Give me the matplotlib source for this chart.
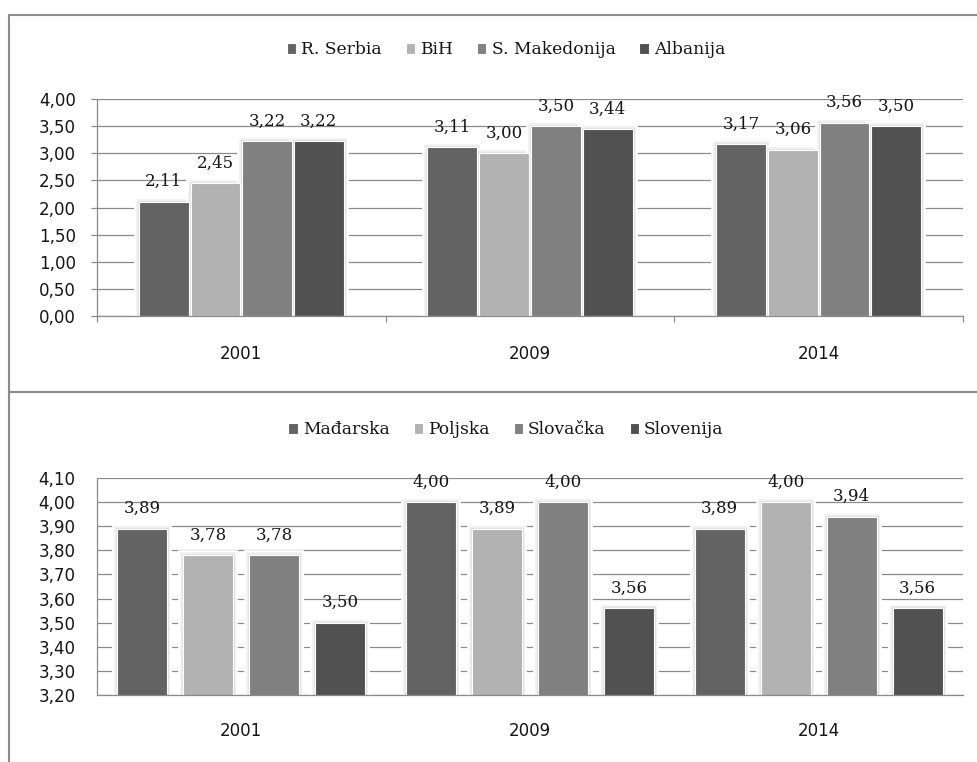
import matplotlib
matplotlib.use("Agg")
import matplotlib.pyplot as plt
import matplotlib.patheffects as pe
from matplotlib.lines import Line2D
from matplotlib.ticker import FixedLocator, FuncFormatter
import numpy as np

# ---- data -------------------------------------------------------------
years = ["2001", "2009", "2014"]

balkan_names = ["R. Serbia", "BiH", "S. Makedonija", "Albanija"]
r_serbia = [2.11, 3.11, 3.17]
bih = [2.45, 3.00, 3.06]
s_makedonija = [3.22, 3.50, 3.56]
albanija = [3.22, 3.44, 3.50]

central_names = ["Mađarska", "Poljska", "Slovačka", "Slovenija"]
madjarska = [3.89, 4.00, 3.89]
poljska = [3.78, 3.89, 4.00]
slovacka = [3.78, 4.00, 3.94]
slovenija = [3.50, 3.56, 3.56]

top_ticks = [0.0, 0.5, 1.0, 1.5, 2.0, 2.5, 3.0, 3.5, 4.0]
bottom_ticks = [3.2, 3.3, 3.4, 3.5, 3.6, 3.7, 3.8, 3.9, 4.0, 4.1]

shades = ["#636363", "#b2b2b2", "#808080", "#515151"]
GRID = "#8a8a8a"
FRAME = "#8c8c8c"
INK = "#151515"
SERIF = "DejaVu Serif"
SANS = "DejaVu Sans"

W, H = 978, 762
fig = plt.figure(figsize=(W / 100, H / 100), dpi=100)
fig.patch.set_facecolor("white")


def px_axes(left, top, right, bottom):
    return fig.add_axes([left / W, 1 - bottom / H, (right - left) / W, (bottom - top) / H])


def comma(v, _pos=None):
    return f"{v:.2f}".replace(".", ",")


def draw_panel(ax, names, series, ylim, yticks, step, width, legend_y,
               ytick_len, ytick_pad, xtick_pad, sep_ticks):
    x = np.arange(len(years))
    ax.set_xlim(-0.5, len(years) - 0.5)
    ax.set_ylim(*ylim)
    handles = []
    for i, (vals, col) in enumerate(zip(series, shades)):
        pos = x + (i - 1.5) * step
        # soft halo behind each bar
        ax.bar(pos, vals, width=width, color="white", edgecolor="white",
               linewidth=0, zorder=1.6,
               path_effects=[pe.Stroke(linewidth=7.0, foreground="white"),
                             pe.Stroke(linewidth=4.4, foreground="#f3f3f3"),
                             pe.Stroke(linewidth=2.4, foreground="#e2e2e2")])
        bars = ax.bar(pos, vals, width=width, color=col, edgecolor="white",
                      linewidth=0.8, zorder=2, label=names[i])
        handles.append(bars)
        for xp, v in zip(pos, vals):
            ax.annotate(comma(v), (xp, v), xytext=(0, 11.3),
                        textcoords="offset points", ha="center", va="baseline",
                        fontsize=12, family=SERIF, color=INK, zorder=3)

    ax.yaxis.set_major_locator(FixedLocator(yticks))
    ax.yaxis.set_major_formatter(FuncFormatter(comma))
    ax.grid(axis="y", color=GRID, linewidth=0.9, zorder=0.5)
    ax.set_axisbelow(True)
    ax.tick_params(axis="y", length=ytick_len, width=0.9, color=GRID,
                   pad=ytick_pad, labelsize=12, labelcolor=INK)
    for lab in ax.get_yticklabels():
        lab.set_family(SANS)

    ax.set_xticks(x)
    ax.set_xticklabels(years, family=SANS, fontsize=12, color=INK)
    ax.tick_params(axis="x", which="major", length=0, pad=xtick_pad)
    if sep_ticks:
        ax.set_xticks(np.arange(-0.5, len(years)), minor=True)
        ax.tick_params(axis="x", which="minor", length=ytick_len, width=0.9,
                       color=GRID, direction="out")

    for side in ("top", "right"):
        ax.spines[side].set_visible(False)
    for side in ("left", "bottom"):
        ax.spines[side].set_color(GRID)
        ax.spines[side].set_linewidth(0.9)

    fig.legend(handles=handles, labels=names, loc="center",
               bbox_to_anchor=(506 / W, 1 - legend_y / H), ncol=4,
               frameon=False, prop={"family": SERIF, "size": 12.3},
               handlelength=0.55, handleheight=0.55, handletextpad=0.3,
               columnspacing=1.4, labelcolor=INK)


ax_top = px_axes(97, 99, 963, 316)
draw_panel(ax_top, balkan_names, [r_serbia, bih, s_makedonija, albanija],
           (0, 4.0), top_ticks, step=51.75 / 289, width=50 / 289,
           legend_y=50, ytick_len=4.3, ytick_pad=11.0, xtick_pad=21.0,
           sep_ticks=True)

ax_bot = px_axes(97, 478, 963, 695)
draw_panel(ax_bot, central_names, [madjarska, poljska, slovacka, slovenija],
           (3.2, 4.1), bottom_ticks, step=66 / 289, width=50 / 289,
           legend_y=430, ytick_len=0, ytick_pad=15.5, xtick_pad=19.5,
           sep_ticks=False)

# panel frames
lw = 1.5
fig.add_artist(Line2D([8.5 / W, 1.0], [1 - 14.5 / H, 1 - 14.5 / H], color=FRAME, lw=lw))
fig.add_artist(Line2D([8.5 / W, 1.0], [1 - 392 / H, 1 - 392 / H], color=FRAME, lw=lw))
fig.add_artist(Line2D([8.5 / W, 8.5 / W], [1 - 14.5 / H, 0.0], color=FRAME, lw=lw))

fig.savefig("out.png", dpi=100, facecolor="white")
